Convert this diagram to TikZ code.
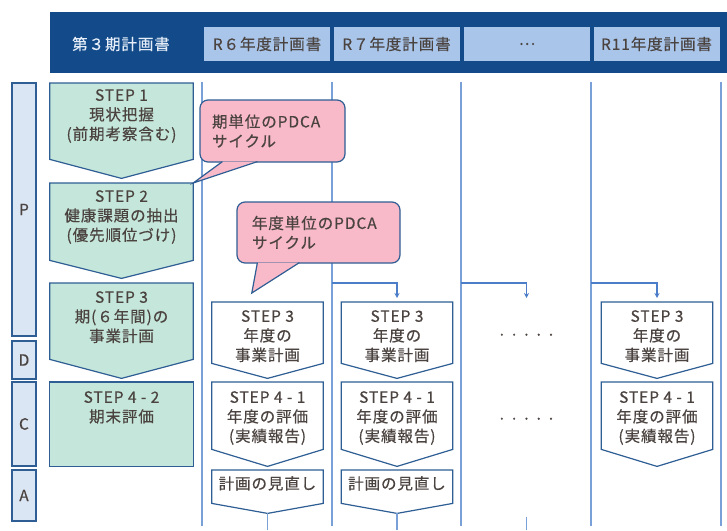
\documentclass[tikz,border=0pt]{standalone}
\usepackage{fontspec}
\setmainfont{Noto Sans CJK JP}[LetterSpace=6, FakeBold=0.4]
\usepackage{xcolor}
\usetikzlibrary{arrows.meta, positioning}
\definecolor{hdrblue}{HTML}{134B8A}
\definecolor{hdrcell}{HTML}{A9C5E9}
\definecolor{hdrtext}{HTML}{E4EDF8}
\definecolor{greenfill}{HTML}{C5E6DA}
\definecolor{frameblue}{HTML}{2E5E94}
\definecolor{pdcafill}{HTML}{DAE6F4}
\definecolor{pinkfill}{HTML}{F8B9C9}
\definecolor{ruleblue}{HTML}{7AA0D8}
\definecolor{arrowblue}{HTML}{4C7DC9}
\definecolor{inkgray}{HTML}{4B4340}
\newcommand{\jpsize}{\fontsize{15.5}{19.5}\selectfont}
\newcommand{\fivedots}{·\hspace{3.6pt}·\hspace{3.6pt}·\hspace{3.6pt}·\hspace{3.6pt}·}
\tikzstyle{rule}     = [line width=1.2pt, draw=ruleblue]
\tikzstyle{feed}     = [line width=1.1pt, draw=arrowblue, -{Stealth[length=5pt,width=5pt]}, shorten >=4pt]
\tikzstyle{hcell}    = [rectangle, fill=hdrcell, minimum width=126pt, minimum height=34pt, inner sep=0pt]
\tikzstyle{pdca}     = [rectangle, draw=frameblue, fill=pdcafill, line width=1.2pt, minimum width=24pt, inner sep=0pt]
\tikzstyle{stepbox}  = [rectangle, minimum width=143pt, inner sep=0pt, anchor=north]
\tikzstyle{yearbox}  = [rectangle, minimum width=111pt, inner sep=0pt, anchor=north]
\tikzstyle{greenline}= [draw=frameblue, fill=greenfill, line width=1.2pt, line join=miter]
\tikzstyle{whiteline}= [draw=frameblue, fill=white, line width=1.2pt, line join=miter]
\tikzstyle{bubble}   = [rectangle, rounded corners=8pt, draw=frameblue, fill=pinkfill, line width=1.2pt,
                        inner sep=0pt, align=left]
\tikzstyle{bubbleedge} = [draw=frameblue, fill=pinkfill, line width=1.2pt, line join=miter]
\tikzset{every node/.style={align=center, text=inkgray, font=\jpsize, inner sep=2pt}}

\begin{document}
\begin{tikzpicture}[x=1pt, y=-1pt]
    \useasboundingbox (0,0) rectangle (727,530);

    % header band
    \node (hdr)   at (388.5,42.5) [rectangle, fill=hdrblue, minimum width=677pt, minimum height=61pt] {};
    \node (plan)  at (121,44)     [text=hdrtext] {第３期計画書};
    \node (r6)    at (267,44)     [hcell] {R６年度計画書};
    \node (r7)    at (396.5,44)   [hcell] {R７年度計画書};
    \node (rdots) at (527,44)     [hcell] {…};
    \node (r11)   at (656.5,44)   [hcell] {R11年度計画書};

    % column rules
    \coordinate (top1) at (202,82);  \coordinate (bot1) at (202,526);
    \coordinate (top2) at (332,82);  \coordinate (bot2) at (332,526);
    \coordinate (top3) at (461,82);  \coordinate (bot3) at (461,526);
    \coordinate (top4) at (591,82);  \coordinate (bot4) at (591,526);
    \coordinate (top5) at (721,82);  \coordinate (bot5) at (721,526);
    \coordinate (floor) at (0,530);
    \draw [rule] (top1) -- (bot1);
    \draw [rule] (top2) -- (bot2);
    \draw [rule] (top3) -- (bot3);
    \draw [rule] (top4) -- (bot4);
    \draw [rule] (top5) -- (bot5);

    % PDCA strip
    \node (P) at (24,209.5) [pdca, minimum height=253pt] {P};
    \node (D) at (24,360)   [pdca, minimum height=38pt]  {D};
    \node (C) at (24,424)   [pdca, minimum height=84pt]  {C};
    \node (A) at (24,495.5) [pdca, minimum height=51pt]  {A};

    % term steps
    \node (s1) at (121.5,83)  [stepbox, minimum height=76pt] {};
    \node (s2) at (121.5,183) [stepbox, minimum height=77pt] {};
    \node (s3) at (121.5,283) [stepbox, minimum height=76pt] {};
    \node (s4) at (121.5,382) [stepbox, minimum height=84pt] {};
    \filldraw [greenline] (s1.north west) -- (s1.north east) -- (s1.south east) -- ([yshift=-19pt]s1.south) -- (s1.south west) -- cycle;
    \filldraw [greenline] (s2.north west) -- (s2.north east) -- (s2.south east) -- ([yshift=-18pt]s2.south) -- (s2.south west) -- cycle;
    \filldraw [greenline] (s3.north west) -- (s3.north east) -- (s3.south east) -- ([yshift=-19pt]s3.south) -- (s3.south west) -- cycle;
    \filldraw [greenline] (s4.north west) rectangle (s4.south east);
    \node (s1txt) [below=4pt of s1.north] {STEP 1\\現状把握\\(前期考察含む)};
    \node (s2txt) [below=5pt of s2.north] {STEP 2\\健康課題の抽出\\(優先順位づけ)};
    \node (s3txt) [below=6pt of s3.north] {STEP 3\\期(６年間)の\\事業計画};
    \node (s4txt) [below=7pt of s4.north] {STEP 4 - 2\\期末評価};

    % R6
    \node (y3a) at (267.5,302) [yearbox, minimum height=61pt] {};
    \node (y4a) at (267.5,382) [yearbox, minimum height=67pt] {};
    \node (rva) at (267.5,470) [yearbox, minimum height=33pt] {};
    \filldraw [whiteline] (y3a.north west) -- (y3a.north east) -- (y3a.south east) -- ([yshift=-15pt]y3a.south) -- (y3a.south west) -- cycle;
    \filldraw [whiteline] (y4a.north west) -- (y4a.north east) -- (y4a.south east) -- ([yshift=-17pt]y4a.south) -- (y4a.south west) -- cycle;
    \filldraw [whiteline] (rva.north west) -- (rva.north east) -- (rva.south east) -- ([yshift=-10pt]rva.south) -- (rva.south west) -- cycle;
    \node (y3atxt) [below=6pt of y3a.north] {STEP 3\\年度の\\事業計画};
    \node (y4atxt) [below=7pt of y4a.north] {STEP 4 - 1\\年度の評価\\(実績報告)};
    \node (rvatxt) [below=4pt of rva.north] {計画の見直し};

    % R7
    \node (y3b) at (397,302) [yearbox, minimum height=61pt] {};
    \node (y4b) at (397,382) [yearbox, minimum height=67pt] {};
    \node (rvb) at (397,470) [yearbox, minimum height=33pt] {};
    \filldraw [whiteline] (y3b.north west) -- (y3b.north east) -- (y3b.south east) -- ([yshift=-15pt]y3b.south) -- (y3b.south west) -- cycle;
    \filldraw [whiteline] (y4b.north west) -- (y4b.north east) -- (y4b.south east) -- ([yshift=-17pt]y4b.south) -- (y4b.south west) -- cycle;
    \filldraw [whiteline] (rvb.north west) -- (rvb.north east) -- (rvb.south east) -- ([yshift=-10pt]rvb.south) -- (rvb.south west) -- cycle;
    \node (y3btxt) [below=6pt of y3b.north] {STEP 3\\年度の\\事業計画};
    \node (y4btxt) [below=7pt of y4b.north] {STEP 4 - 1\\年度の評価\\(実績報告)};
    \node (rvbtxt) [below=4pt of rvb.north] {計画の見直し};

    % ... years
    \node (dt3) at (526.5,337) {\fivedots};
    \node (dt4) at (526.5,421) {\fivedots};
    \coordinate (in3)  at (dt3 |- y3a.north);
    \coordinate (out3) at (526.5,517);

    % R11
    \node (y3d) at (657,302) [yearbox, minimum height=61pt] {};
    \node (y4d) at (657,382) [yearbox, minimum height=67pt] {};
    \filldraw [whiteline] (y3d.north west) -- (y3d.north east) -- (y3d.south east) -- ([yshift=-15pt]y3d.south) -- (y3d.south west) -- cycle;
    \filldraw [whiteline] (y4d.north west) -- (y4d.north east) -- (y4d.south east) -- ([yshift=-17pt]y4d.south) -- (y4d.south west) -- cycle;
    \node (y3dtxt) [below=6pt of y3d.north] {STEP 3\\年度の\\事業計画};
    \node (y4dtxt) [below=7pt of y4d.north] {STEP 4 - 1\\年度の評価\\(実績報告)};

    % year to year
    \draw [feed] (top2 |- s3.north) -| (y3b.north);
    \draw [feed] (top3 |- s3.north) -| (in3);
    \draw [feed] (top4 |- s3.north) -| (y3d.north);
    \draw [rule] ([yshift=-10pt]rva.south) -- (rva.south |- floor);
    \draw [rule] ([yshift=-10pt]rvb.south) -- (rvb.south |- floor);
    \draw [rule] (out3) -- (out3 |- floor);

    % call-outs
    \node (cyc1) at (272.5,131) [bubble, minimum width=145pt, minimum height=62pt, text width=121pt]
          {期単位のPDCA\\サイクル};
    \filldraw [bubbleedge] ([xshift=23pt,yshift=1pt]cyc1.south west) -- (s2.north east)
          -- ([xshift=58pt,yshift=1pt]cyc1.south west);
    \node (cyc2) at (318.5,232.5) [bubble, minimum width=163pt, minimum height=61pt, text width=133pt]
          {年度単位のPDCA\\サイクル};
    \filldraw [bubbleedge] ([xshift=21pt,yshift=1pt]cyc2.south west) -- ([xshift=40pt,yshift=9pt]y3a.north west)
          -- ([xshift=63pt,yshift=1pt]cyc2.south west);
\end{tikzpicture}
\end{document}
